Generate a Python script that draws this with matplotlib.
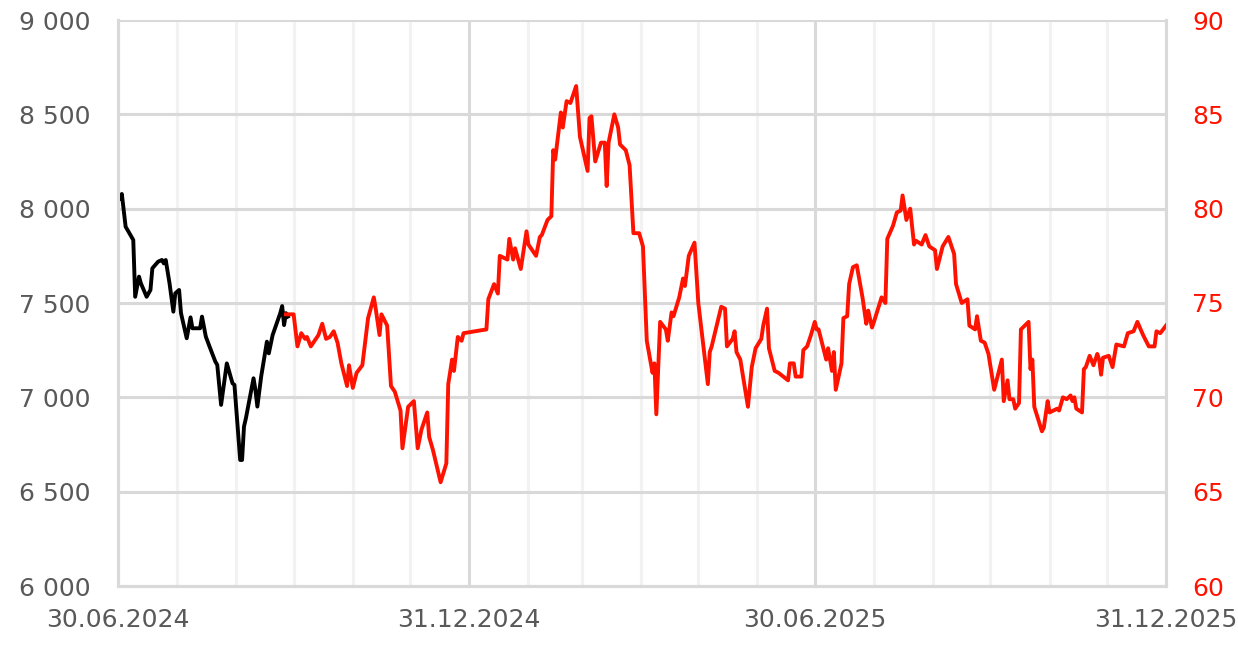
import numpy as np
import pandas as pd
import matplotlib
matplotlib.use('Agg')
import matplotlib.pyplot as plt
from matplotlib.ticker import FuncFormatter, MultipleLocator

# days counted from 30.06.2024
start = pd.Timestamp('2024-06-30')

black_days = [1, 2, 4, 5, 8, 9, 11, 12, 15, 17, 18, 21, 23, 24, 25, 27, 29, 30, 32, 33,
              36, 38, 39, 43, 44, 46, 48, 51, 52, 54, 57, 60, 61, 64, 65, 66, 67, 71, 72, 73,
              75, 78, 79, 81, 85, 86, 87, 88, 89]
black_vals = [8055, 8078, 7904, 7887, 7834, 7533, 7640, 7604, 7533, 7569, 7684, 7719, 7728, 7710,
              7728, 7604, 7454, 7551, 7569, 7446, 7313, 7424, 7366, 7366, 7428, 7322, 7268, 7189,
              7172, 6960, 7180, 7074, 7066, 6668, 6668, 6845, 6889, 7101, 7039, 6951, 7110, 7295,
              7233, 7330, 7446, 7484, 7383, 7446, 7428]

red_days = [88, 92, 94, 96, 98, 99, 101, 103, 105, 107, 109, 111, 113, 115, 117, 120, 121, 123,
            125, 128, 131, 134, 135, 137, 138, 141, 143, 145, 148, 149, 152, 155, 157, 159, 162,
            163, 165, 169, 172, 173, 175, 176, 178, 180, 181, 193, 194, 197, 199, 200, 204, 205,
            207, 208, 211, 214, 215, 219, 221, 222, 225, 227, 228, 229, 232, 233, 235, 237, 240,
            242, 244, 246, 247, 248, 250, 253, 255, 256, 257, 260, 262, 263, 266, 268, 270, 273,
            275, 277, 280, 281, 282, 284, 287, 288, 290, 291, 294, 296, 297, 299, 302, 304, 309,
            310, 311, 316, 318, 319, 322, 323, 324, 326, 330, 332, 334, 337, 338, 340, 341, 344,
            346, 351, 352, 354, 355, 358, 359, 361, 363, 365, 366, 367, 369, 371, 372, 374, 375,
            376, 379, 380, 382, 383, 385, 387, 390, 392, 393, 395, 396, 400, 402, 403, 406, 408,
            410, 411, 413, 415, 417, 418, 421, 423, 425, 428, 429, 432, 435, 438, 439, 442, 445,
            446, 449, 450, 452, 454, 456, 459, 463, 464, 466, 467, 469, 470, 472, 473, 477, 478,
            479, 480, 484, 485, 487, 488, 492, 493, 495, 497, 499, 500, 501, 502, 505, 506, 507,
            509, 511, 513, 514, 515, 516, 519, 521, 523, 527, 529, 532, 534, 537, 540, 543, 544,
            546, 549]
red_vals = [74.4, 74.4, 72.7, 73.4, 73.1, 73.2, 72.7, 73.0, 73.3, 73.9, 73.1, 73.2, 73.5, 72.9,
            71.8, 70.6, 71.7, 70.5, 71.3, 71.7, 74.2, 75.3, 74.7, 73.3, 74.4, 73.8, 70.6, 70.3,
            69.3, 67.3, 69.5, 69.8, 67.3, 68.3, 69.2, 67.9, 67.2, 65.5, 66.5, 70.7, 72.0, 71.4,
            73.2, 73.0, 73.4, 73.6, 75.2, 76.0, 75.5, 77.5, 77.3, 78.4, 77.3, 77.9, 76.8, 78.8,
            78.1, 77.5, 78.5, 78.6, 79.4, 79.6, 83.1, 82.6, 85.1, 84.3, 85.7, 85.6, 86.5, 83.8,
            82.9, 82.0, 84.8, 84.9, 82.5, 83.5, 83.5, 81.2, 83.5, 85.0, 84.3, 83.4, 83.1, 82.3,
            78.7, 78.7, 78.0, 73.0, 71.3, 71.8, 69.1, 74.0, 73.6, 73.0, 74.5, 74.3, 75.3, 76.3,
            75.9, 77.5, 78.2, 75.0, 70.7, 72.4, 72.7, 74.8, 74.7, 72.7, 73.1, 73.5, 72.4, 72.0,
            69.5, 71.6, 72.6, 73.1, 73.8, 74.7, 72.6, 71.4, 71.3, 70.9, 71.8, 71.8, 71.1, 71.1,
            72.5, 72.7, 73.3, 74.0, 73.6, 73.6, 72.8, 72.0, 72.6, 71.4, 72.4, 70.4, 71.8, 74.2,
            74.3, 76.0, 76.9, 77.0, 75.3, 73.9, 74.6, 73.7, 74.0, 75.3, 75.0, 78.4, 79.1, 79.8,
            79.9, 80.7, 79.4, 80.0, 78.1, 78.3, 78.1, 78.6, 78.0, 77.8, 76.8, 78.0, 78.5, 77.6,
            76.0, 75.0, 75.2, 73.8, 73.6, 74.3, 73.0, 72.9, 72.3, 70.4, 72.0, 69.8, 70.9, 69.9,
            69.9, 69.4, 69.7, 73.6, 74.0, 71.5, 72.0, 69.5, 68.2, 68.4, 69.8, 69.2, 69.4, 69.3,
            70.0, 69.9, 70.1, 69.8, 70.0, 69.4, 69.2, 71.5, 71.6, 72.2, 71.7, 72.3, 72.0, 71.2,
            72.1, 72.2, 71.6, 72.8, 72.7, 73.4, 73.5, 74.0, 73.3, 72.7, 72.7, 73.5, 73.4, 73.8]

major_dates = ['2024-06-30', '2024-12-31', '2025-06-30', '2025-12-31']
major_labels = ['30.06.2024', '31.12.2024', '30.06.2025', '31.12.2025']

black_t = start + pd.to_timedelta(black_days, unit='D')
red_t = start + pd.to_timedelta(red_days, unit='D')

plt.rcParams['font.family'] = ['DejaVu Sans']
grey = '#d9d9d9'
light = '#f2f2f2'
txt = '#595959'
red = '#ff1200'

fig = plt.figure(figsize=(12.38, 6.46), dpi=100)
ax = fig.add_axes([118/1238, 1-586/646, (1166-118)/1238, (586-20)/646])
ax2 = ax.twinx()

ax.plot(black_t, black_vals, color='black', lw=2.8, solid_joinstyle='round', zorder=3)
ax2.plot(red_t, red_vals, color=red, lw=2.8, solid_joinstyle='round', zorder=3)

ax.set_xlim(pd.Timestamp(major_dates[0]), pd.Timestamp(major_dates[-1]))
ax.set_ylim(6000, 9000)
ax2.set_ylim(60, 90)
ax.yaxis.set_major_locator(MultipleLocator(500))
ax2.yaxis.set_major_locator(MultipleLocator(5))
ax.yaxis.set_major_formatter(FuncFormatter(lambda v, p: f'{int(v):,}'.replace(',', ' ')))
ax2.yaxis.set_major_formatter(FuncFormatter(lambda v, p: f'{int(v)}'))

ax.set_xticks(pd.to_datetime(major_dates))
ax.set_xticklabels(major_labels)
month_ends = pd.date_range('2024-07-31', '2025-11-30', freq='ME')
ax.set_xticks(month_ends, minor=True)

ax.grid(axis='y', color=grey, lw=2.2, zorder=0)
ax.grid(axis='x', which='major', color=grey, lw=2.2, zorder=0)
ax.grid(axis='x', which='minor', color=light, lw=2.2, zorder=0)
ax.set_axisbelow(True)

ax.tick_params(axis='both', which='both', length=0)
ax.tick_params(axis='y', labelsize=18, labelcolor=txt, pad=20)
ax.tick_params(axis='x', labelsize=18, labelcolor=txt, pad=16)
ax2.tick_params(axis='y', length=0, labelsize=18, labelcolor=red, pad=19)

for a in (ax, ax2):
    for s in a.spines.values():
        s.set_color(grey)
        s.set_linewidth(2.2)
    a.spines['top'].set_visible(False)

fig.savefig('out.png', dpi=100)
